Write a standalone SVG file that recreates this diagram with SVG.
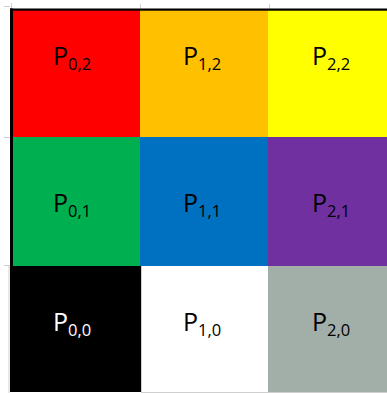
<svg xmlns="http://www.w3.org/2000/svg" width="387" height="393" viewBox="0 0 387 393">
  <style>
    .lbl { font-family: "Open Sans", "Liberation Sans", sans-serif; fill: #000; }
    .lbl.inv { fill: #fff; }
    .big { font-size: 25px; }
    .sub { font-size: 16.5px; }
    .tick { stroke: #cfcfcf; stroke-width: 1; fill: none; }
    .frame { fill: #000; }
  </style>
  <rect width="387" height="393" fill="#fff"/>

  <!-- axis ticks -->
  <g id="ticks">
    <path class="tick" d="M11.5 3V10 M140.5 4V10 M269.5 4V10"/>
    <path class="tick" d="M4 6.5H10 M4 137.5H10 M4 265.5H10"/>
    <path class="tick" d="M9 266V393"/>
    <path class="tick" stroke="#8a8a8a" d="M141 392.5H387 M141.5 266V393"/>
  </g>

  <!-- top row -->
  <g id="p02">
    <rect x="13" y="10" width="127" height="127" fill="#ff0000"/>
    <text class="lbl" y="65"><tspan class="big" x="53">P</tspan><tspan class="sub" x="68" dy="5">0,2</tspan></text>
  </g>
  <g id="p12">
    <rect x="140" y="10" width="128" height="127" fill="#ffc000"/>
    <text class="lbl" y="65"><tspan class="big" x="183">P</tspan><tspan class="sub" x="198" dy="5">1,2</tspan></text>
  </g>
  <g id="p22">
    <rect x="268" y="10" width="119" height="127" fill="#ffff00"/>
    <text class="lbl" y="65"><tspan class="big" x="312">P</tspan><tspan class="sub" x="327" dy="5">2,2</tspan></text>
  </g>

  <!-- middle row -->
  <g id="p01">
    <rect x="13" y="137" width="127" height="129" fill="#00b050"/>
    <text class="lbl" y="211.5"><tspan class="big" x="53">P</tspan><tspan class="sub" x="68" dy="5">0,1</tspan></text>
  </g>
  <g id="p11">
    <rect x="140" y="137" width="128" height="129" fill="#0070c0"/>
    <text class="lbl" y="211.5"><tspan class="big" x="183">P</tspan><tspan class="sub" x="198" dy="5">1,1</tspan></text>
  </g>
  <g id="p21">
    <rect x="268" y="137" width="119" height="129" fill="#7030a0"/>
    <text class="lbl" y="211.5"><tspan class="big" x="312">P</tspan><tspan class="sub" x="327" dy="5">2,1</tspan></text>
  </g>

  <!-- bottom row -->
  <g id="p00">
    <rect x="10" y="266" width="131" height="126" fill="#000"/>
    <text class="lbl inv" y="330.5"><tspan class="big" x="53">P</tspan><tspan class="sub" x="68" dy="5">0,0</tspan></text>
  </g>
  <g id="p10">
    <rect x="142" y="266" width="126" height="126" fill="#fff"/>
    <text class="lbl" y="330.5"><tspan class="big" x="183">P</tspan><tspan class="sub" x="198" dy="5">1,0</tspan></text>
  </g>
  <g id="p20">
    <rect x="268" y="266" width="119" height="126" fill="#a2aea8"/>
    <text class="lbl" y="330.5"><tspan class="big" x="312">P</tspan><tspan class="sub" x="327" dy="5">2,0</tspan></text>
  </g>

  <!-- outer frame: top and left edges -->
  <g id="frame">
    <rect class="frame" x="10" y="8.5" width="377" height="2.2"/>
    <rect class="frame" x="10" y="8.5" width="3" height="258"/>
  </g>
</svg>
